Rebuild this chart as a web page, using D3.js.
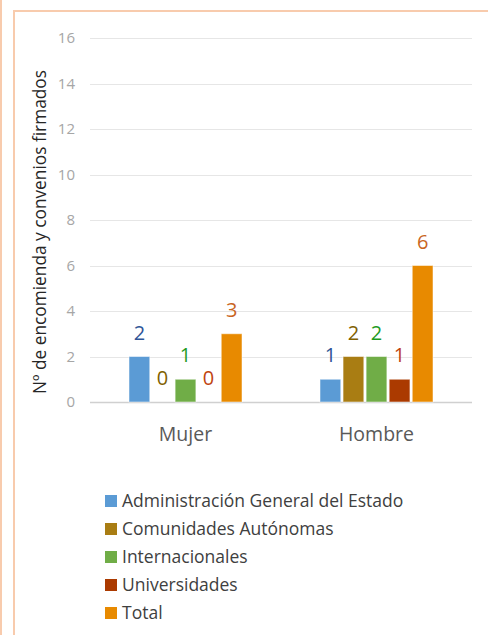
<!DOCTYPE html>
<html><head><meta charset="utf-8">
<script src="https://cdn.jsdelivr.net/npm/d3@7"></script>
<style>body{margin:0;background:#fff}svg{display:block}</style>
</head><body>
<svg id="c" width="488" height="635"></svg>
<script>
const categories = ["Mujer", "Hombre"];
const seriesNames = ["Administración General del Estado", "Comunidades Autónomas", "Internacionales", "Universidades", "Total"];
const valuesAGE = [2, 1];
const valuesCCAA = [0, 2];
const valuesInternacionales = [1, 2];
const valuesUniversidades = [0, 1];
const valuesTotal = [3, 6];
const yTicks = [0, 2, 4, 6, 8, 10, 12, 14, 16];
const yTitle = "Nº de encomienda y convenios firmados";
const title = "Encomiendas y convenios por género y tipo";

const seriesValues = [valuesAGE, valuesCCAA, valuesInternacionales, valuesUniversidades, valuesTotal];
const barColors = ["#5B9BD5", "#A97D13", "#70AD47", "#AB3A00", "#E88A00"];
const labelColors = ["#2F5597", "#806000", "#1E9B1E", "#C0440F", "#C9651E"];

const svg = d3.select("#c");
const font = "'Open Sans', 'Noto Sans', sans-serif";

// frame decorations (title clipped at the top edge as in the reference)
svg.append("text").attr("x", 50).attr("y", -5).attr("font-family", font).attr("font-weight", "bold")
  .attr("font-size", 19).attr("fill", "#C55A11").text(title);
svg.append("line").attr("x1", 1).attr("x2", 1).attr("y1", 0).attr("y2", 635).attr("stroke", "#F8CBAD").attr("stroke-width", 2);
svg.append("line").attr("x1", 14).attr("x2", 14).attr("y1", 10).attr("y2", 635).attr("stroke", "#F8CBAD").attr("stroke-width", 2);
svg.append("line").attr("x1", 13).attr("x2", 488).attr("y1", 11).attr("y2", 11).attr("stroke", "#F8CBAD").attr("stroke-width", 2);

const x0 = d3.scaleBand().domain(categories).range([90, 472]).paddingInner(0).paddingOuter(0);
const groupW = 113;
const x1 = d3.scaleBand().domain(seriesNames).range([0, groupW]).paddingInner(0.1);
const y = d3.scaleLinear().domain([0, 16]).range([402, 38]);

// gridlines
svg.append("g").selectAll("line").data(yTicks).join("line")
  .attr("x1", 90).attr("x2", 472)
  .attr("y1", d => Math.round(y(d)) + 0.5).attr("y2", d => Math.round(y(d)) + 0.5)
  .attr("stroke", d => d === 0 ? "#D0D0D0" : "#E6E6E6").attr("stroke-width", d => d === 0 ? 1.5 : 1);

// y tick labels
svg.append("g").selectAll("text").data(yTicks).join("text")
  .attr("x", 75).attr("y", d => y(d)).attr("dy", "0.35em").attr("text-anchor", "end")
  .attr("font-family", font).attr("font-size", 15).attr("fill", "#A6A6A6").text(d => d);

// y title
svg.append("text").attr("transform", `translate(46,${(38 + 402) / 2 + 12}) rotate(-90)`)
  .attr("text-anchor", "middle").attr("font-family", font).attr("font-size", 17.3).attr("fill", "#262626").text(yTitle);

// bars
const groups = svg.append("g").selectAll("g").data(categories).join("g")
  .attr("transform", c => `translate(${x0(c) + (x0.bandwidth() - groupW) / 2},0)`);
groups.each(function (c, ci) {
  const g = d3.select(this);
  seriesNames.forEach((s, si) => {
    const v = seriesValues[si][ci];
    if (v > 0) {
      g.append("rect").attr("x", x1(s)).attr("width", x1.bandwidth())
        .attr("y", y(v)).attr("height", y(0) - y(v))
        .attr("fill", barColors[si]).attr("stroke", "#fff").attr("stroke-opacity", 0.5).attr("stroke-width", 1);
    }
    g.append("text").attr("x", x1(s) + x1.bandwidth() / 2).attr("y", y(v) - 17)
      .attr("text-anchor", "middle").attr("font-family", font).attr("font-size", 20)
      .attr("fill", labelColors[si]).text(v);
  });
});

// category labels
svg.append("g").selectAll("text").data(categories).join("text")
  .attr("x", c => x0(c) + x0.bandwidth() / 2).attr("y", 441).attr("text-anchor", "middle")
  .attr("font-family", font).attr("font-size", 19.5).attr("fill", "#595959").text(c => c);

// legend
const lg = svg.append("g").selectAll("g").data(seriesNames).join("g")
  .attr("transform", (s, i) => `translate(105,${501 + i * 28})`);
lg.append("rect").attr("x", 0).attr("y", -6).attr("width", 12).attr("height", 12).attr("fill", (s, i) => barColors[i]);
lg.append("text").attr("x", 17).attr("y", 0).attr("dy", "0.35em").attr("font-family", font)
  .attr("font-size", 17.5).attr("fill", "#404040").text(s => s);
</script>
</body></html>
